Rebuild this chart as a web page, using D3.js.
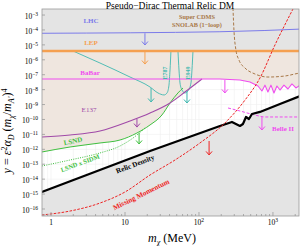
<!DOCTYPE html>
<meta charset="utf-8">
<style>
body { margin: 0; background: #fff; }
svg { display: block; font-family: "Liberation Serif", "DejaVu Serif", serif; }
.lbl { font-weight: bold; font-size: 7px; text-anchor: middle; }
.tick text { font-size: 7.5px; }
</style>
<body>
<script src="https://cdn.jsdelivr.net/npm/d3@7"></script>
<script>

// ---- data: [m_chi (MeV), y] ----
var lhc = [[0.75, 6.0e-5], [192, 7.6e-5], [3000, 1.2e-4]];
var lep = [[0.75, 3.9e-6], [3000, 3.9e-6]];
var babar = [[0.75, 5.2e-8], [110, 5.2e-8], [192, 5.2e-8], [358, 4.4e-8], [489, 3.25e-8], [627, 1.75e-8],
  [710, 8.1e-9], [780, 2.0e-8], [855, 7.0e-9], [940, 2.0e-8], [1032, 6.0e-9], [1132, 1.75e-8],
  [1244, 9.4e-9], [1409, 2.0e-8], [1595, 1.1e-8], [1806, 2.4e-8], [2046, 1.3e-8], [2317, 2.0e-8], [3000, 1.6e-8]];
var e137 = [[0.75, 6.7e-12], [1.81, 9.1e-12], [4.59, 1.69e-11], [11.7, 7.9e-11], [21.8, 2.7e-10],
  [40.6, 1.27e-9], [64.7, 6.9e-9], [110, 5.2e-8]];
var lsnd = [[0.75, 6.6e-13], [1.81, 1.43e-12], [4.59, 2.65e-12], [8.56, 4.2e-12], [14.5, 1.24e-11],
  [21.8, 4.3e-11], [31.6, 2.0e-10], [40.6, 1.27e-9], [52.0, 6.0e-9], [60.8, 1.29e-8]];
var lsndSidm = [[0.75, 7.6e-14], [1.81, 1.92e-13], [4.59, 5.7e-13], [8.56, 1.67e-12], [14.5, 9.1e-12], [18.6, 2.7e-11]];
var e787 = [[1.98, 3.9e-6], [4.59, 6.1e-7], [11.7, 7.0e-8], [21.8, 1.5e-8], [27.9, 6.0e-9], [33.7, 4.4e-9],
  [37.0, 6.0e-9], [39.3, 2.0e-8], [40.6, 2.07e-7], [41.8, 3.9e-6]];
var e949 = [[52.0, 3.9e-6], [53.7, 2.07e-7], [55.4, 2.8e-8], [58.9, 9.5e-9], [64.7, 6.0e-9], [71.0, 8.1e-9],
  [78.0, 2.8e-8], [80.4, 2.07e-7], [83.0, 3.9e-6]];
var cdms = [[288, 3.0e-3], [297, 9.9e-5], [316, 4.5e-6], [347, 9.7e-7], [419, 2.8e-7], [571, 1.12e-7],
  [855, 7.0e-8], [1452, 8.2e-8], [2317, 1.3e-7], [3000, 1.5e-7]];
var missing = [[0.75, 3.96e-17], [1.81, 7.3e-17], [4.59, 2.5e-16], [10, 1.38e-15], [21.8, 1.9e-14],
  [47.4, 1.92e-13], [103, 2.65e-12], [224, 5.8e-11], [419, 2.0e-9], [667, 6.0e-8], [1064, 9.8e-6], [1862, 2.5e-3]];
var relic = [[0.75, 1.38e-15], [21.8, 7.7e-13], [192, 3.66e-11], [279, 6.8e-11], [316, 5.0e-11], [358, 3.66e-11],
  [393, 5.0e-11], [432, 1.47e-10], [474, 1.08e-10], [520, 2.33e-10], [667, 3.2e-10], [1244, 1.09e-9],
  [2317, 3.7e-9], [3000, 6.0e-9]];
var belle = [[247, 5.9e-10], [358, 3.7e-10], [571, 2.0e-10], [780, 1.47e-10], [3000, 1.47e-10]];

// arrows: [m, y from, y to]
var arrows = [
  [18.6, 6.0e-5, 9.8e-6, "#7b7bea"],
  [18.6, 3.9e-6, 5.2e-7, "#f5a050"],
  [224, 4.4e-8, 6.0e-9, "#ef4cef"],
  [14.5, 1.08e-10, 3.1e-11, "#a04aa8"],
  [15.5, 1.24e-11, 2.28e-12, "#3fbf3f"],
  [22.5, 1.29e-8, 1.49e-9, "#3fb8b0"],
  [68.8, 8.1e-9, 1.27e-9, "#3fb8b0"],
  [137, 3.6e-12, 4.2e-13, "#ee2222"],
  [710, 1.47e-10, 1.97e-11, "#ef4cef"]
];

var xMajor = [1, 10, 100, 1000];
var xTickText = [["1", ""], ["10", ""], ["10", "2"], ["10", "3"]];
var yMajor = [-3, -4, -5, -6, -7, -8, -9, -10, -11, -12, -13, -14, -15, -16];

var width = 300, height = 246;
var pl = 42, pr = 299, pt = 9, pb = 216;

var x = d3.scaleLog().domain([0.755, 2250]).range([pl, pr]);
var y = d3.scaleLog().domain([3.39e-17, 2.54e-3]).range([pb, pt]);

var svg = d3.select("body").append("svg")
  .attr("width", width).attr("height", height);

svg.append("clipPath").attr("id", "clip")
  .append("rect").attr("x", pl).attr("y", pt)
  .attr("width", pr - pl).attr("height", pb - pt);

var plot = svg.append("g").attr("clip-path", "url(#clip)");

plot.append("rect").attr("x", pl).attr("y", pt)
  .attr("width", pr - pl).attr("height", pb - pt).attr("fill", "#fff");

// faint grid
var minor = [];
[0.1, 1, 10, 100, 1000].forEach(function(d) {
  for (var k = 1; k < 10; k++) minor.push(d * k);
});
minor = minor.filter(function(v) { return v >= 0.755 && v <= 2250; });
plot.selectAll("line.gx").data(minor).enter().append("line")
  .attr("x1", x).attr("x2", x).attr("y1", pt).attr("y2", pb)
  .attr("stroke", "#efefef").attr("stroke-width", 0.6);
plot.selectAll("line.gy").data(yMajor).enter().append("line")
  .attr("x1", pl).attr("x2", pr)
  .attr("y1", function(d) { return y(Math.pow(10, d)); })
  .attr("y2", function(d) { return y(Math.pow(10, d)); })
  .attr("stroke", "#efefef").attr("stroke-width", 0.6);

var gray = "#e4e4e4", beige = "#efe6df";

// excluded: above LEP gray, beige down to the lowest experimental bound
var edge = lsnd.slice(0, 8).concat(e137.slice(6), babar.slice(2));

plot.append("rect").attr("x", pl).attr("y", pt)
  .attr("width", pr - pl).attr("height", y(lep[0][1]) - pt).attr("fill", gray);

plot.append("path").datum(edge)
  .attr("fill", beige)
  .attr("d", d3.area()
    .x(function(d) { return x(d[0]); })
    .y0(y(lep[0][1]))
    .y1(function(d) { return y(d[1]); }));

plot.append("path").datum(relic)
  .attr("fill", gray)
  .attr("d", d3.area()
    .x(function(d) { return x(d[0]); })
    .y0(pb)
    .y1(function(d) { return y(d[1]); }));

var line = d3.line()
  .x(function(d) { return x(d[0]); })
  .y(function(d) { return y(d[1]); })
  .curve(d3.curveMonotoneX);
var lineLin = d3.line()
  .x(function(d) { return x(d[0]); })
  .y(function(d) { return y(d[1]); });

function curve(data, color, w, dash, gen) {
  plot.append("path").datum(data)
    .attr("fill", "none")
    .attr("stroke", color)
    .attr("stroke-width", w)
    .attr("stroke-dasharray", dash || null)
    .attr("stroke-linejoin", "round")
    .attr("d", (gen || line));
}

curve(lsndSidm, "#3fbf3f", 1, "1,1.3");
curve(e787, "#3fb8b0", 0.9);
curve(e949, "#3fb8b0", 0.9);
curve(lsnd, "#3fbf3f", 1);
curve(e137, "#a04aa8", 1.1);
curve(babar, "#ef4cef", 1.1, null, lineLin);
curve(lhc, "#7b7bea", 1);
curve(lep, "#f5a050", 2.4);
curve(cdms, "#a87848", 1, "3,1.8");
curve(belle, "#ef4cef", 1, "3,1.8");
curve(relic, "#000", 2.2, null, lineLin);
curve(missing, "#ee2222", 1, "2.6,1.4");

// arrows
arrows.forEach(function(a) {
  var ax = x(a[0]), y0 = y(a[1]), y1 = y(a[2]);
  var g = plot.append("g").attr("stroke", a[3]).attr("fill", "none").attr("stroke-width", 1);
  g.append("line").attr("x1", ax).attr("x2", ax).attr("y1", y0).attr("y2", y1);
  g.append("polyline").attr("points", [[ax - 3, y1 - 3.5], [ax, y1], [ax + 3, y1 - 3.5]].join(" "));
});

// labels
function label(t, m, v, color, angle, size, bold) {
  plot.append("text")
    .attr("class", "lbl")
    .attr("transform", "translate(" + x(m) + "," + y(v) + ") rotate(" + (angle || 0) + ")")
    .attr("dy", "0.35em")
    .style("fill", color)
    .style("font-size", (size || 7) + "px")
    .style("font-weight", bold === false ? "normal" : "bold")
    .text(t);
}
label("LHC", 3.47, 4.0e-4, "#7b7bea");
label("LEP", 3.47, 1.34e-5, "#f5a050");
label("BaBar", 3.37, 1.3e-7, "#ef4cef");
label("E137", 3.26, 5.0e-10, "#a04aa8", 0, 7, false);
label("LSND", 1.98, 3.6e-12, "#3fbf3f", -12);
label("LSND x SIDM", 2.47, 1.2e-13, "#3fbf3f", -20, 6.5);
label("Relic Density", 13.7, 1.04e-13, "#000", -21, 7.2);
label("Missing Momentum", 16.5, 9.5e-16, "#ee2222", -26, 7.2);
label("E787", 34.7, 1.3e-7, "#3fb8b0", -90, 6);
label("E949", 71, 1.3e-7, "#3fb8b0", -90, 6);
label("Belle II", 1365, 2.3e-11, "#ef4cef", 0, 7);
label("Super CDMS", 94, 7.4e-4, "#a87848", 0, 6.3);
label("SNOLAB (1\u2212loop)", 94, 2.15e-4, "#a87848", 0, 6.3);

// frame and ticks
var axes = svg.append("g").attr("stroke", "#9a9a9a").attr("stroke-width", 0.8);
axes.append("rect").attr("x", pl).attr("y", pt)
  .attr("width", pr - pl).attr("height", pb - pt).attr("fill", "none");
axes.selectAll("line.xt").data(minor).enter().append("line")
  .attr("x1", x).attr("x2", x).attr("y1", pb)
  .attr("y2", function(d) { return xMajor.indexOf(d) >= 0 ? pb - 4 : pb - 2; });
axes.selectAll("line.yt").data(yMajor).enter().append("line")
  .attr("x1", pl)
  .attr("x2", pl + 3)
  .attr("y1", function(d) { return y(Math.pow(10, d)); })
  .attr("y2", function(d) { return y(Math.pow(10, d)); });

var xl = svg.append("g").attr("class", "tick");
xMajor.forEach(function(d, i) {
  var t = xl.append("text").attr("x", x(d)).attr("y", 225).attr("text-anchor", "middle");
  t.append("tspan").text(xTickText[i][0]);
  if (xTickText[i][1]) t.append("tspan").attr("dy", -3).style("font-size", "5.5px").text(xTickText[i][1]);
});

var yl = svg.append("g").attr("class", "tick");
yMajor.forEach(function(d) {
  var t = yl.append("text").attr("x", 38).attr("y", y(Math.pow(10, d)) + 4).attr("text-anchor", "end");
  t.append("tspan").text("10");
  t.append("tspan").attr("dy", -3).style("font-size", "5.5px").text("\u2212" + (-d));
});

// titles
svg.append("text").attr("x", 170).attr("y", 8.5).attr("text-anchor", "middle")
  .style("font-size", "9.5px").text("Pseudo\u2212Dirac Thermal Relic DM");

var xt = svg.append("text").attr("x", 172).attr("y", 242).attr("text-anchor", "middle").style("font-size", "12px");
xt.append("tspan").style("font-style", "italic").text("m");
xt.append("tspan").attr("dy", 2.5).style("font-size", "8px").style("font-style", "italic").text("\u03c7");
xt.append("tspan").attr("dy", -2.5).text(" (MeV)");

var yt = svg.append("text").attr("transform", "translate(11,131) rotate(-90)")
  .attr("text-anchor", "middle").style("font-size", "12px");
yt.append("tspan").style("font-style", "italic").text("y");
yt.append("tspan").text(" = ");
yt.append("tspan").style("font-style", "italic").text("\u03b5");
yt.append("tspan").attr("dy", -4).style("font-size", "8px").text("2");
yt.append("tspan").attr("dy", 4).style("font-style", "italic").text("\u03b1");
yt.append("tspan").attr("dy", 2.5).style("font-size", "8px").style("font-style", "italic").text("D");
yt.append("tspan").attr("dy", -2.5).text(" (");
yt.append("tspan").style("font-style", "italic").text("m");
yt.append("tspan").attr("dy", 2.5).style("font-size", "8px").style("font-style", "italic").text("\u03c7");
yt.append("tspan").attr("dy", -2.5).text("/");
yt.append("tspan").style("font-style", "italic").text("m");
yt.append("tspan").attr("dy", 2.5).style("font-size", "8px").style("font-style", "italic").text("A\u2032");
yt.append("tspan").attr("dy", -2.5).text(")");
yt.append("tspan").attr("dy", -4).style("font-size", "8px").text("4");

</script>
</body>
